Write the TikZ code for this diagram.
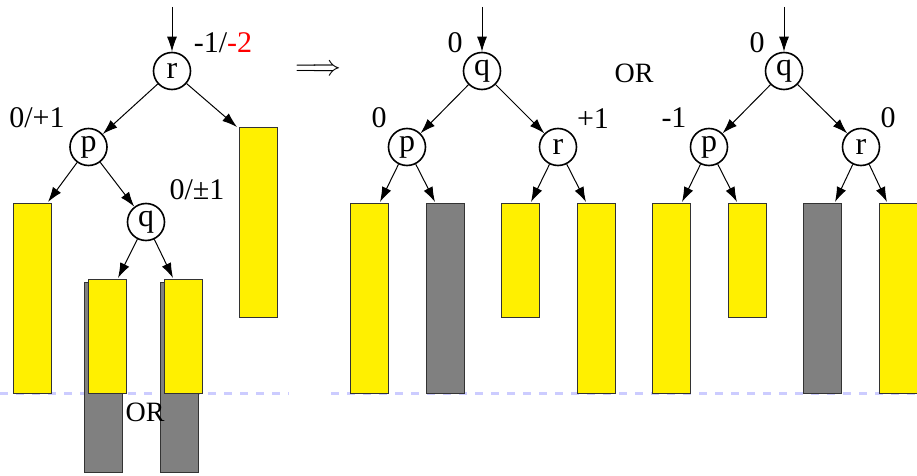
\documentclass[tikz,border=0pt]{standalone}
\usepackage{fontspec}
\setmainfont{Liberation Serif}
\usetikzlibrary{arrows.meta,calc}
\definecolor{baryellow}{RGB}{255,240,0}
\definecolor{bargray}{RGB}{128,128,128}
\definecolor{dashblue}{RGB}{204,204,255}
\tikzset{
  tn/.style={circle,draw,line width=0.8pt,minimum size=18.5pt,inner sep=0pt,font=\fontsize{16}{19}\selectfont},
  bar/.style={rectangle,draw=black!80,line width=0.5pt,anchor=north west,minimum width=19pt,inner sep=0pt,outer sep=0pt},
  tallbar/.style={bar,minimum height=94.5pt},
  shortbar/.style={bar,minimum height=56.5pt},
  yel/.style={fill=baryellow},
  gry/.style={fill=bargray},
  lbl/.style={inner sep=0pt,font=\fontsize{15}{18}\selectfont},
  orlbl/.style={inner sep=0pt,font=\fontsize{14}{17}\selectfont},
  arr/.style={line width=0.5pt,-{Latex[length=7.5pt,width=5pt]}},
  baseline dash/.style={draw=dashblue,line width=1.5pt,dash pattern=on 4pt off 4pt}
}
\begin{document}
\begin{tikzpicture}[x=0.5pt,y=-0.5pt]
\useasboundingbox (0,0) rectangle (917,476);
% dashed baselines
\coordinate (dl0) at (0,393);
\coordinate (dl1) at (289,393);
\coordinate (dr0) at (331,393);
\coordinate (dr1) at (917,393);
\draw[baseline dash] (dl0) -- (dl1);
\draw[baseline dash] (dr0) -- (dr1);

% ---------- left tree ----------
\node[tn] (r) at (172,71) {r};
\node[tn] (p) at (88.5,147) {p};
\node[tn] (q) at (146,222) {q};
\node[tallbar,yel] (lb) at (13,204) {};
\node[tallbar,yel] (rb) at (239,128) {};
\node[tallbar,gry] (g1) at (84,283) {};
\node[shortbar,yel] (y1) at (88,280) {};
\node[tallbar,gry] (g2) at (160,283) {};
\node[shortbar,yel] (y2) at (164,280) {};
\coordinate (rin) at (172,7);
\draw[arr] (rin) -- (r);
\draw[arr] (r) -- (p);
\draw[arr] (r) -- ($(rb.north west)+(-2,-1)$);
\draw[arr] (p) -- ($(lb.north east)+(-3,-2)$);
\draw[arr] (p) -- (q);
\draw[arr] (q) -- ($(y1.north east)+(-8,-2)$);
\draw[arr] (q) -- ($(y2.north west)+(9,-2)$);
\node[lbl] (lr) at (223,43) {-1/\textcolor{red}{-2}};
\node[lbl] (lp) at (37,118) {0/+1};
\node[lbl] (lq) at (197,190) {0/±1};
\node[orlbl] (or1) at (145,412) {OR};
\node[lbl] (impl) at (318,70) {$\Longrightarrow$};

% ---------- middle tree ----------
\node[tn] (mq) at (482,71) {q};
\node[tn] (mp) at (407,147) {p};
\node[tn] (mr) at (558,147) {r};
\node[tallbar,yel] (m1) at (350,204) {};
\node[tallbar,gry] (m2) at (426,204) {};
\node[shortbar,yel] (m3) at (501,204) {};
\node[tallbar,yel] (m4) at (577,204) {};
\coordinate (min) at (482,7);
\draw[arr] (min) -- (mq);
\draw[arr] (mq) -- (mp);
\draw[arr] (mq) -- (mr);
\draw[arr] (mp) -- ($(m1.north east)+(-8,-2)$);
\draw[arr] (mp) -- ($(m2.north west)+(9,-2)$);
\draw[arr] (mr) -- ($(m3.north east)+(-8,-2)$);
\draw[arr] (mr) -- ($(m4.north west)+(9,-2)$);
\node[lbl] (lmq) at (455,43) {0};
\node[lbl] (lmp) at (379,118) {0};
\node[lbl] (lmr) at (593,119) {+1};
\node[orlbl] (or2) at (634,73) {OR};

% ---------- right tree ----------
\node[tn] (nq) at (784,71) {q};
\node[tn] (np) at (709,147) {p};
\node[tn] (nr) at (861,147) {r};
\node[tallbar,yel] (n1) at (652,204) {};
\node[shortbar,yel] (n2) at (728,204) {};
\node[tallbar,gry] (n3) at (803,204) {};
\node[tallbar,yel] (n4) at (879,204) {};
\coordinate (nin) at (784,7);
\draw[arr] (nin) -- (nq);
\draw[arr] (nq) -- (np);
\draw[arr] (nq) -- (nr);
\draw[arr] (np) -- ($(n1.north east)+(-8,-2)$);
\draw[arr] (np) -- ($(n2.north west)+(9,-2)$);
\draw[arr] (nr) -- ($(n3.north east)+(-6,-2)$);
\draw[arr] (nr) -- ($(n4.north west)+(8,-2)$);
\node[lbl] (lnq) at (757,43) {0};
\node[lbl] (lnp) at (674,118) {-1};
\node[lbl] (lnr) at (888,118) {0};
\end{tikzpicture}
\end{document}
